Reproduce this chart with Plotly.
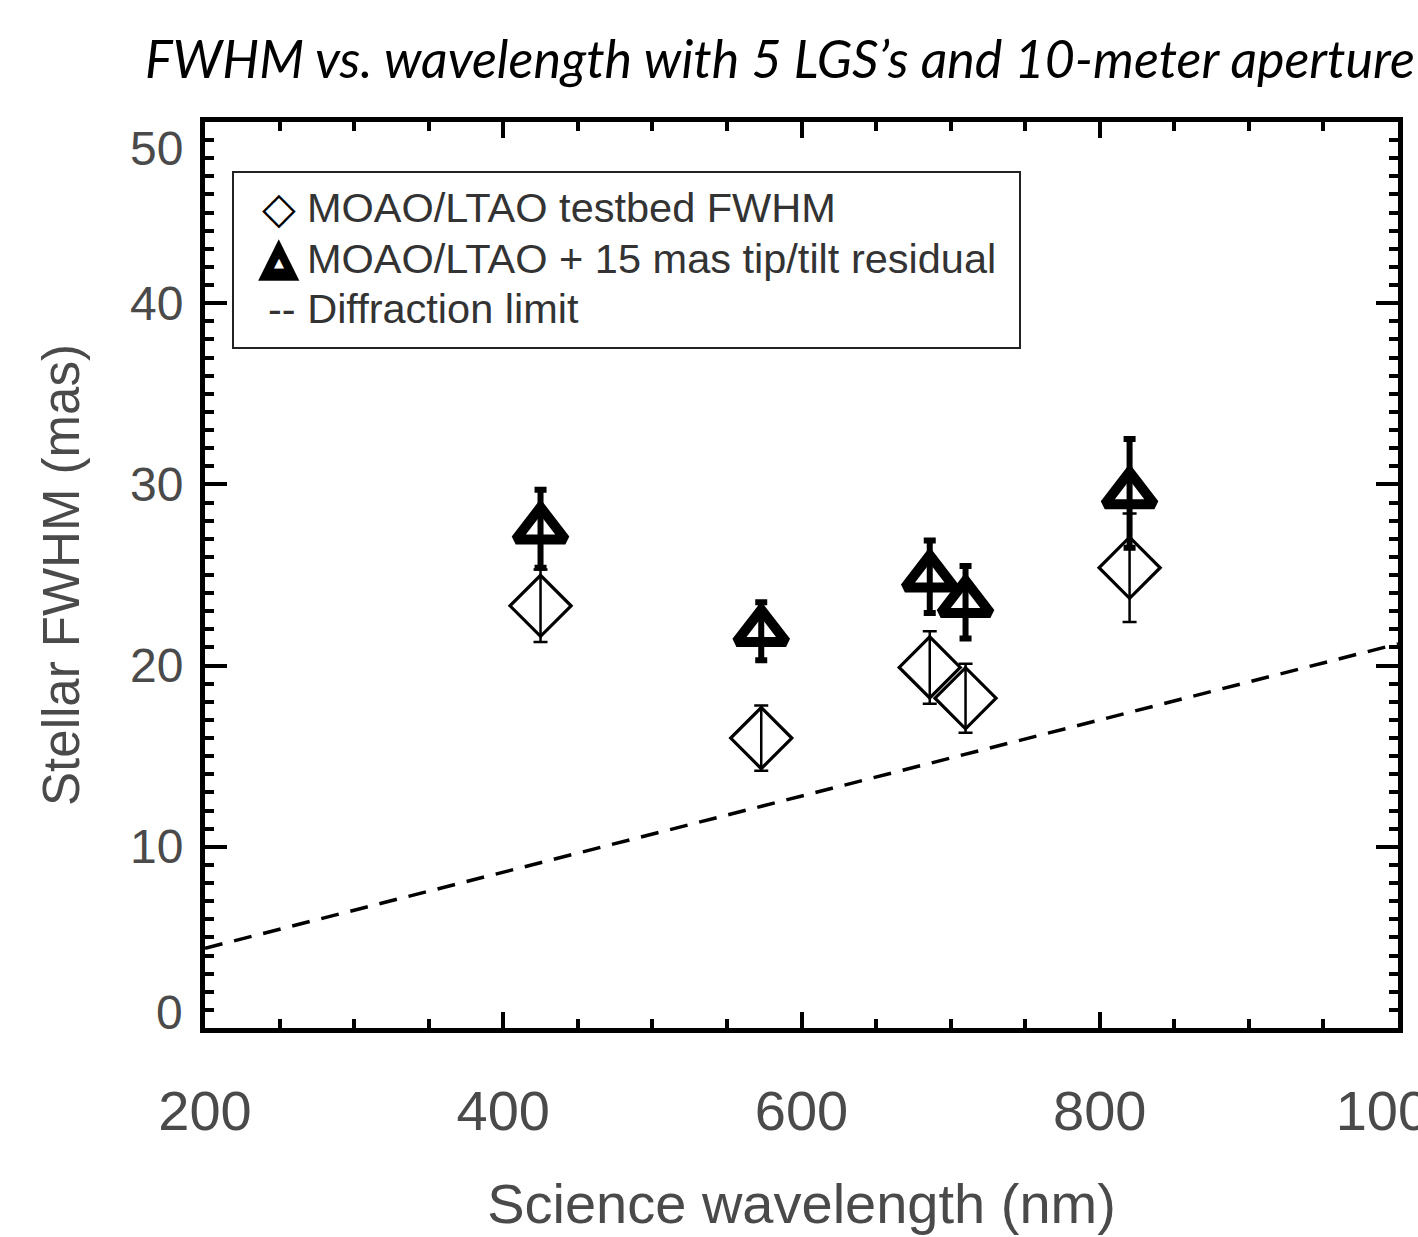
import plotly.graph_objects as go

# ---- data ----
wl_testbed = [425, 573, 686, 710, 820]
fwhm_testbed = [23.3, 16.0, 19.9, 18.2, 25.4]
err_testbed = [2.0, 1.8, 2.0, 1.9, 3.0]

wl_tt = [425, 573, 686, 710, 820]
fwhm_tt = [27.55, 21.9, 24.9, 23.5, 29.5]
err_tt = [2.15, 1.6, 2.0, 2.0, 3.0]

wl_diff = [200, 1000]
fwhm_diff = [4.4, 21.2]

x_ticks = [200, 400, 600, 800, 1000]
y_ticks = [0, 10, 20, 30, 40, 50]

title_text = "FWHM vs. wavelength with 5 LGS\u2019s and 10-meter aperture"
legend_labels = ["MOAO/LTAO testbed FWHM",
                 "MOAO/LTAO + 15 mas tip/tilt residual",
                 "-- Diffraction limit"]

FONT = "Liberation Sans"
GREY = "#4a4a4a"
# vertical nudges of the y tick labels (pixels, positive = down), as in the original
Y_LABEL_NUDGE = {0: -16, 50: 26}

fig = go.Figure()

# diffraction limit
fig.add_trace(go.Scatter(x=wl_diff, y=fwhm_diff, mode="lines",
                         line=dict(color="black", width=3.5, dash="18px,12px"),
                         showlegend=False, hoverinfo="skip"))

# testbed diamonds
fig.add_trace(go.Scatter(x=wl_testbed, y=fwhm_testbed, mode="markers",
                         marker=dict(symbol="diamond", size=47, color="white",
                                     line=dict(color="black", width=3.2)),
                         showlegend=False))
fig.add_trace(go.Scatter(x=wl_testbed, y=fwhm_testbed, mode="markers",
                         marker=dict(size=1, color="rgba(0,0,0,0)"),
                         error_y=dict(type="data", array=err_testbed, color="black",
                                      thickness=2.5, width=7),
                         showlegend=False, hoverinfo="skip"))

# tip/tilt triangles
fig.add_trace(go.Scatter(x=wl_tt, y=fwhm_tt, mode="markers",
                         marker=dict(symbol="triangle-up", size=43, color="white",
                                     line=dict(color="black", width=10)),
                         showlegend=False))
fig.add_trace(go.Scatter(x=wl_tt, y=fwhm_tt, mode="markers",
                         marker=dict(size=1, color="rgba(0,0,0,0)"),
                         error_y=dict(type="data", array=err_tt, color="black",
                                      thickness=6, width=6),
                         showlegend=False, hoverinfo="skip"))

L, R, T, B = 205, 20, 122, 209
W, H = 1418, 1237
PW, PH = W - L - R, H - T - B


def px(x):
    return (x - L) / PW


def py(y):
    return (H - B - y) / PH


annotations = [
    dict(text=title_text, x=px(780), y=py(58), xref="paper", yref="paper",
         showarrow=False, xanchor="center", yanchor="middle",
         font=dict(family="Lato", size=52, color="black", style="italic")),
]
# y tick labels
for v in y_ticks:
    annotations.append(dict(text=str(v), x=0, y=v, xref="paper", yref="y",
                            showarrow=False, xanchor="right", yanchor="middle",
                            xshift=-20, yshift=-Y_LABEL_NUDGE.get(v, 0),
                            font=dict(family=FONT, size=48, color=GREY)))
# legend texts
rows_y = [207, 258, 308]
for i, xs in enumerate([305, 305, 266]):
    annotations.append(dict(text=legend_labels[i], x=px(xs), y=py(rows_y[i]),
                            xref="paper", yref="paper", showarrow=False,
                            xanchor="left", yanchor="middle",
                            font=dict(family=FONT, size=41.5, color="#333333")))
# legend symbols
annotations.append(dict(text="\u25C7", x=px(279), y=py(rows_y[0]),
                        xref="paper", yref="paper", showarrow=False,
                        xanchor="center", yanchor="middle",
                        font=dict(family="DejaVu Sans", size=44, color="black")))
annotations.append(dict(text="\u25B2", x=px(279), y=py(rows_y[1] - 2),
                        xref="paper", yref="paper", showarrow=False,
                        xanchor="center", yanchor="middle",
                        font=dict(family="DejaVu Sans", size=54, color="black")))
annotations.append(dict(text="\u25B2", x=px(279), y=py(rows_y[1] + 4),
                        xref="paper", yref="paper", showarrow=False,
                        xanchor="center", yanchor="middle",
                        font=dict(family="DejaVu Sans", size=13, color="white")))

shapes = [dict(type="rect", xref="paper", yref="paper",
               x0=px(233), x1=px(1020), y0=py(348), y1=py(172),
               line=dict(color="#222222", width=2), fillcolor="rgba(0,0,0,0)")]

fig.update_layout(
    width=W, height=H,
    margin=dict(l=L, r=R, t=T, b=B),
    paper_bgcolor="white", plot_bgcolor="white",
    showlegend=False,
    annotations=annotations,
    shapes=shapes,
    xaxis=dict(range=[200, 1000], tickvals=x_ticks, ticktext=[str(v) for v in x_ticks],
               showgrid=False, zeroline=False,
               showline=True, linecolor="black", linewidth=5, mirror="ticks",
               ticks="inside", ticklen=16, tickwidth=4, tickcolor="black",
               minor=dict(ticks="inside", dtick=50, ticklen=9, tickwidth=4,
                          tickcolor="black", showgrid=False),
               tickfont=dict(family=FONT, size=56, color=GREY),
               ticklabelstandoff=30, ticklabeloverflow="allow",
               title=dict(text="Science wavelength (nm)", standoff=44,
                          font=dict(family=FONT, size=56, color=GREY)),
               automargin=False),
    yaxis=dict(range=[0, 50], tickvals=y_ticks, showticklabels=False,
               showgrid=False, zeroline=False,
               showline=True, linecolor="black", linewidth=5, mirror="ticks",
               ticks="inside", ticklen=22, tickwidth=4, tickcolor="black",
               minor=dict(ticks="inside", dtick=1, ticklen=9, tickwidth=4,
                          tickcolor="black", showgrid=False),
               title=dict(text="Stellar FWHM (mas)", standoff=106,
                          font=dict(family=FONT, size=51, color=GREY)),
               automargin=False),
)

fig.write_html("out.html")
